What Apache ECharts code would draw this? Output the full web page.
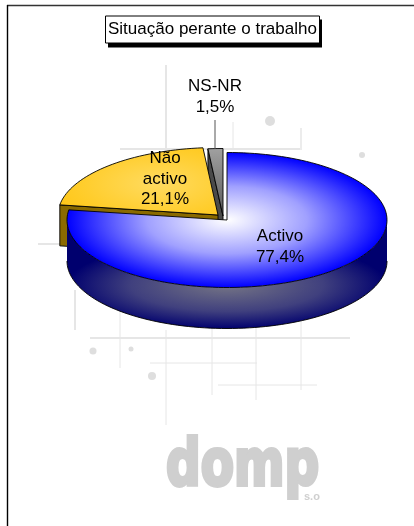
<!DOCTYPE html>
<html><head><meta charset="utf-8">
<style>html,body{margin:0;padding:0;background:#fff}#c{width:414px;height:526px}</style>
<script src="https://cdn.jsdelivr.net/npm/echarts@6/dist/echarts.min.js"></script>
</head><body><div id="c"></div>
<script>
const titleText = 'Situação perante o trabalho';
const categories = ['Activo', 'Não\nactivo', 'NS-NR'];
const values = [77.4, 21.1, 1.5];

const FONT = '"Liberation Sans", Arial, sans-serif';
const RX = 160, RY = 67.5, DEPTH = 41;
const apexes = [[227, 220], [218, 215], [223, 216]];
const labelCenters = [[280, 247], [165, 179], [215, 97]];

const total = values.reduce((a, b) => a + b, 0);
const startAngles = [];
values.reduce((acc, v, i) => { startAngles[i] = acc; return acc + v / total * 360; }, 0);

function rim(a0, a1, rx, ry) {
  const pts = [], n = Math.max(2, Math.ceil(Math.abs(a1 - a0) / 2));
  for (let i = 0; i <= n; i++) {
    const t = (a0 + (a1 - a0) * i / n) * Math.PI / 180;
    pts.push([rx * Math.sin(t), -ry * Math.cos(t)]);
  }
  return pts;
}
function outline(pts, z2, x, y, close) {
  return { type: close ? 'polygon' : 'polyline', x, y, z2, silent: true, shape: { points: pts },
    style: { fill: 'none', stroke: '#000', lineWidth: 0.9 } };
}
function renderItem(params, api) {
  const i = api.value(0), v = api.value(1);
  const a0 = startAngles[i], a1 = a0 + v / total * 360;
  const c = api.coord(apexes[i]);
  const k = RY / RX, kids = [];
  const sector = rim(a0, a1, RX, RX);
  const top = [[0, 0]].concat(sector);
  const topOutline = [[0, 0]].concat(rim(a0, a1, RX, RY));
  if (i === 0) {
    const low = rim(90, 270, RX, RY);
    const wall = low.concat(low.slice().reverse().map(p => [p[0], p[1] + DEPTH]));
    const wy = RY - 2.5, wk = 44 / RX;
    kids.push({ type: 'polygon', x: c[0], y: c[1] + wy, scaleY: wk, z2: 3, silent: true,
      shape: { points: wall.map(p => [p[0], (p[1] - wy) / wk]) },
      style: { fill: new echarts.graphic.RadialGradient(0, 0, RX,
        [{ offset: 0, color: '#757585' }, { offset: 0.6, color: '#40407e' }, { offset: 1, color: '#00006e' }], true) } });
    kids.push(outline(low.slice().reverse().map(p => [p[0], p[1] + DEPTH]), 3, c[0], c[1]));
    kids.push({ type: 'polygon', x: c[0], y: c[1], scaleY: k, z2: 4, silent: true, shape: { points: top },
      style: { fill: new echarts.graphic.RadialGradient(0, 0, RX,
        [{ offset: 0, color: '#ffffff' }, { offset: 0.5, color: '#a0a0ff' }, { offset: 1, color: '#0000ff' }], true) } });
    kids.push(outline(topOutline, 4, c[0], c[1], true));
  } else {
    const e = topOutline[1];
    const face = [[0, 0], e, [e[0], e[1] + DEPTH], [0, DEPTH]];
    kids.push({ type: 'polygon', x: c[0], y: c[1], z2: i === 1 ? 1 : 0, silent: true, shape: { points: face },
      style: { fill: i === 1 ? '#8a6a00' : '#4a4a4a', stroke: '#000', lineWidth: 0.9 } });
    const fill = i === 1
      ? new echarts.graphic.RadialGradient(-60, -75, RX * 0.95,
          [{ offset: 0, color: '#ffdb60' }, { offset: 0.5, color: '#ffcd2c' }, { offset: 1, color: '#ffc000' }], true)
      : new echarts.graphic.LinearGradient(0, -RX, 0, 0,
          [{ offset: 0, color: '#a0a0a0' }, { offset: 1, color: '#5a5a5a' }], true);
    kids.push({ type: 'polygon', x: c[0], y: c[1], scaleY: k, z2: i === 1 ? 6 : 2, silent: true, shape: { points: top }, style: { fill } });
    kids.push(outline(topOutline, i === 1 ? 6 : 2, c[0], c[1], true));
  }
  const lc = api.coord(labelCenters[i]);
  kids.push({ type: 'text', x: lc[0], y: lc[1], z2: 10, silent: true,
    style: { text: categories[i] + '\n' + v.toFixed(1).replace('.', ',') + '%', font: '17px ' + FONT,
      lineHeight: 20.5, fill: '#000', align: 'center', verticalAlign: 'middle' } });
  return { type: 'group', children: kids };
}

const W = '#e6e6e6';
const wmLines = [
  [166,65,166,148,2],[120,149,300,149,2],[301,128,301,150,1.5],[233,122,233,150,1],
  [90,338,350,338,2],[120,290,120,368,1],[166,330,166,425,1],[212,290,212,395,1],[256,290,256,400,1],[301,290,301,390,1],
  [150,363,257,363,1],[218,385,317,385,1],[75,290,75,330,2],[38,244,60,244,2]
];
const wmDots = [[270,121,5],[362,155,3],[93,351,3.5],[131,349,2.5],[152,376,4]];
const LOGO = '#cfcfcf';
const graphicEls = [
  { type: 'line', silent: true, z: -1, shape: { x1: 7, y1: 5.5, x2: 414, y2: 5.5 }, style: { stroke: '#333', lineWidth: 1.6 } },
  { type: 'line', silent: true, z: -1, shape: { x1: 7.5, y1: 5, x2: 7.5, y2: 526 }, style: { stroke: '#000', lineWidth: 1.4 } },
  ...wmLines.map(l => ({ type: 'line', silent: true, z: -1, shape: { x1: l[0], y1: l[1], x2: l[2], y2: l[3] }, style: { stroke: W, lineWidth: l[4] } })),
  ...wmDots.map(d => ({ type: 'circle', silent: true, z: -1, shape: { cx: d[0], cy: d[1], r: d[2] }, style: { fill: '#dedede' } })),
  { type: 'line', silent: true, z: 5, shape: { x1: 215, y1: 120, x2: 215, y2: 149 }, style: { stroke: '#555', lineWidth: 1 } },
  { type: 'rect', silent: true, z: 0, shape: { x: 108, y: 19.5, width: 214, height: 28 }, style: { fill: '#000' } },
  { type: 'text', silent: true, z: -1, x: 166, y: 436, scaleX: 0.97, scaleY: 1.28, style: { text: 'domp', font: 'bold 50px "DejaVu Sans"', fill: LOGO, stroke: LOGO, lineWidth: 3, shadowColor: LOGO, shadowBlur: 3 } },
  { type: 'text', silent: true, z: -1, x: 304, y: 491, style: { text: 's.o', font: 'bold 11px "Liberation Sans"', fill: LOGO } }
];

const chart = echarts.init(document.getElementById('c'));
chart.setOption({
  animation: false,
  backgroundColor: '#fff',
  title: { text: titleText, left: 105, top: 16, z: 8, padding: [4.5, 3, 4.5, 3], backgroundColor: '#fff', borderColor: '#000', borderWidth: 1,
    textStyle: { fontFamily: FONT, fontSize: 17, fontWeight: 'normal', color: '#000', lineHeight: 18 } },
  grid: { left: 0, right: 0, top: 0, bottom: 0 },
  xAxis: { type: 'value', min: 0, max: 414, show: false },
  yAxis: { type: 'value', min: 0, max: 526, inverse: true, show: false },
  graphic: graphicEls,
  series: [{ type: 'custom', clip: false, renderItem, encode: { x: 0, y: 1 }, data: values.map((v, i) => [i, v]) }]
});
</script></body></html>
